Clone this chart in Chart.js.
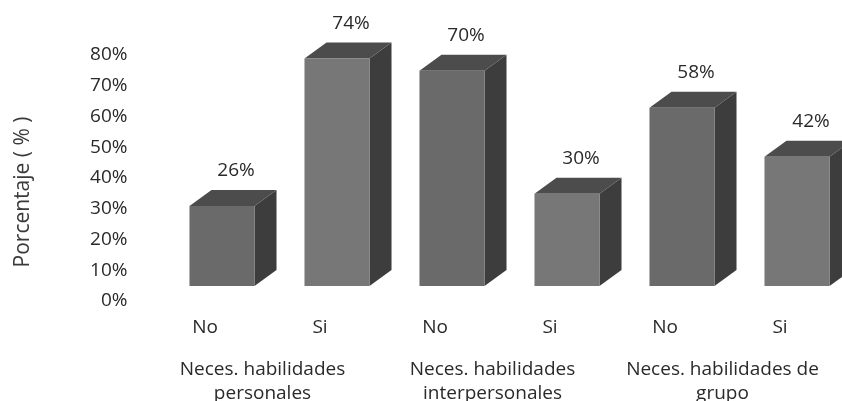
<!DOCTYPE html>
<html><head><meta charset="utf-8">
<script src="https://cdn.jsdelivr.net/npm/chart.js@4/dist/chart.umd.min.js"></script>
<style>html,body{margin:0;padding:0;background:#fff;overflow:hidden}#wrap{width:842px;height:401px}</style>
</head><body><div id="wrap"><canvas id="c" width="842" height="401"></canvas></div>
<script>
const categories = ["No", "Si", "No", "Si", "No", "Si"];
const groups = [["Neces. habilidades", "personales"], ["Neces. habilidades", "interpersonales"], ["Neces. habilidades de", "grupo"]];
const values = [26, 74, 70, 30, 58, 42];
const yTicks = [0, 10, 20, 30, 40, 50, 60, 70, 80];
const yTitle = "Porcentaje ( % )";

const FONT = "Open Sans";
const TEXT = "#2a2a2a";
const frontColors = values.map((v, i) => i % 2 === 0 ? "#6a6a6a" : "#777777");
const SHIFT_X = 17, SHIFT_Y = -15, DEPTH_X = 22, DEPTH_Y = 16;

const bar3d = {
  id: "bar3d",
  beforeDatasetsDraw(chart) {
    const ctx = chart.ctx;
    ctx.save();
    ctx.translate(SHIFT_X, SHIFT_Y);
    const meta = chart.getDatasetMeta(0);
    meta.data.forEach((bar, i) => {
      const p = bar.getProps(["x", "y", "base", "width"], true);
      const l = p.x - p.width / 2, r = p.x + p.width / 2, t = p.y, b = p.base;
      ctx.fillStyle = "#3d3d3d";
      ctx.beginPath();
      ctx.moveTo(r, t); ctx.lineTo(r + DEPTH_X, t - DEPTH_Y);
      ctx.lineTo(r + DEPTH_X, b - DEPTH_Y); ctx.lineTo(r, b); ctx.closePath(); ctx.fill();
      ctx.fillStyle = "#4c4c4c";
      ctx.beginPath();
      ctx.moveTo(l, t); ctx.lineTo(l + DEPTH_X, t - DEPTH_Y);
      ctx.lineTo(r + DEPTH_X, t - DEPTH_Y); ctx.lineTo(r, t); ctx.closePath(); ctx.fill();
    });
  },
  afterDatasetsDraw(chart) {
    const ctx = chart.ctx;
    ctx.restore();
    const meta = chart.getDatasetMeta(0);
    ctx.save();
    ctx.font = "19px '" + FONT + "'";
    ctx.fillStyle = TEXT;
    ctx.textAlign = "center";
    ctx.textBaseline = "middle";
    meta.data.forEach((bar, i) => {
      const p = bar.getProps(["x", "y"], true);
      ctx.fillText(values[i] + "%", p.x + SHIFT_X + DEPTH_X / 2 + 3, p.y + SHIFT_Y - DEPTH_Y - 19);
    });
    const a = chart.chartArea;
    ctx.font = "21px '" + FONT + "'";
    ctx.translate(23, a.bottom - 109);
    ctx.rotate(-Math.PI / 2);
    ctx.fillStyle = "#3a3a3a";
    ctx.fillText(yTitle, 0, 0);
    ctx.restore();
  }
};

new Chart(document.getElementById("c"), {
  type: "bar",
  data: {
    labels: categories,
    datasets: [{ data: values, backgroundColor: frontColors, borderWidth: 0,
      barPercentage: 0.8, categoryPercentage: 0.707 }]
  },
  options: {
    responsive: false,
    animation: false,
    events: [],
    layout: { padding: { top: 55, right: 4.5, bottom: 0, left: 0 } },
    plugins: { legend: { display: false }, tooltip: { enabled: false } },
    scales: {
      y: {
        min: 0, max: 80,
        afterFit(s) { s.width = 147.5; },
        afterBuildTicks(s) { s.ticks = yTicks.map(v => ({ value: v })); },
        grid: { display: false, drawTicks: false },
        border: { display: false },
        ticks: { padding: 20, color: TEXT, font: { family: FONT, size: 19 },
          callback: v => v + "%" }
      },
      x: {
        weight: 0,
        afterFit(s) { s.height = 36; },
        grid: { display: false, drawTicks: false },
        border: { display: false },
        ticks: { padding: 15, color: TEXT, font: { family: FONT, size: 19 } }
      },
      x2: {
        type: "category",
        position: "bottom",
        weight: 1,
        labels: groups,
        afterFit(s) { s.height = 64; },
        grid: { display: false, drawTicks: false },
        border: { display: false },
        ticks: { padding: 21, color: TEXT, font: { family: FONT, size: 19, lineHeight: 1.263 } }
      }
    }
  },
  plugins: [bar3d]
});
</script></body></html>
